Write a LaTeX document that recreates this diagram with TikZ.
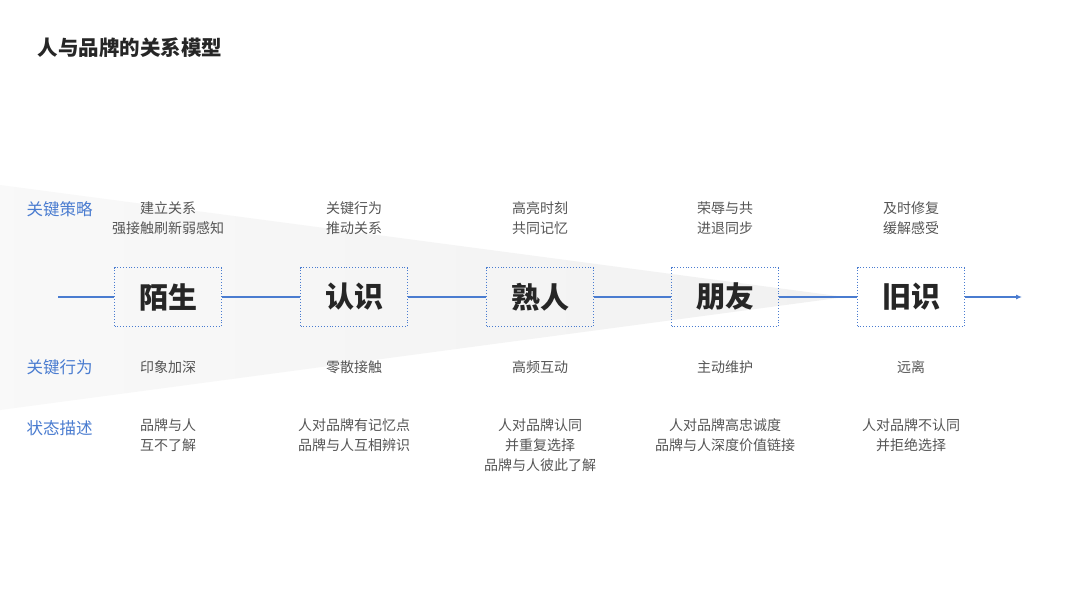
\documentclass[tikz,border=0pt]{standalone}
\usepackage{fontspec}
\setmainfont{Noto Sans CJK SC}
\usetikzlibrary{arrows.meta}
\definecolor{lineblue}{HTML}{4A7CD0}
\definecolor{textgray}{HTML}{555555}
\begin{document}
\begin{tikzpicture}[x=1pt,y=-1pt,
                    stage/.style={draw=lineblue,dotted,line width=0.9pt,minimum width=107pt,minimum height=59pt,font=\fontsize{29}{32}\selectfont\bfseries,text=black!85},
                    link/.style={lineblue,line width=1.1pt},
                    desc/.style={align=center,text=textgray,font=\fontsize{14}{20}\selectfont},
                    rowlab/.style={anchor=west,text=lineblue,font=\fontsize{16.5}{18}\selectfont}
                    ]
  \useasboundingbox (0,0) rectangle (1080,608);
  \fill[white] (0,0) rectangle (1080,608);
  % funnel
  \shade[left color=gray!5,right color=gray!11] (0,185) -- (845,297) -- (0,410) -- cycle;
  \node[anchor=west,font=\fontsize{20.5}{22}\selectfont\bfseries,text=black!85] (title) at (34,48) {人与品牌的关系模型};
  \coordinate (start) at (58,297);
  \coordinate (end) at (1022,297);
  \node[stage] (s1) at (168,297) {陌生};
  \node[stage] (s2) at (354,297) {认识};
  \node[stage] (s3) at (540,297) {熟人};
  \node[stage] (s4) at (725,297) {朋友};
  \node[stage] (s5) at (911,297) {旧识};
  \draw[link] (start) -- (s1);
  \draw[link] (s1) -- (s2);
  \draw[link] (s2) -- (s3);
  \draw[link] (s3) -- (s4);
  \draw[link] (s4) -- (s5);
  \draw[link,-{Latex[length=6pt,width=5pt]}] (s5) -- (end);
  % row labels
  \node[rowlab] (l1) at (23,209) {关键策略};
  \node[rowlab] (l2) at (23,367) {关键行为};
  \node[rowlab] (l3) at (23,428) {状态描述};
  % strategy
  \node[desc] (a1) at (168,218) {建立关系\\强接触刷新弱感知};
  \node[desc] (a2) at (354,218) {关键行为\\推动关系};
  \node[desc] (a3) at (540,218) {高亮时刻\\共同记忆};
  \node[desc] (a4) at (725,218) {荣辱与共\\进退同步};
  \node[desc] (a5) at (911,218) {及时修复\\缓解感受};
  % behaviour
  \node[desc] (b1) at (168,367) {印象加深};
  \node[desc] (b2) at (354,367) {零散接触};
  \node[desc] (b3) at (540,367) {高频互动};
  \node[desc] (b4) at (725,367) {主动维护};
  \node[desc] (b5) at (911,367) {远离};
  % state
  \node[desc,anchor=north] (c1) at (168,415) {品牌与人\\互不了解};
  \node[desc,anchor=north] (c2) at (354,415) {人对品牌有记忆点\\品牌与人互相辨识};
  \node[desc,anchor=north] (c3) at (540,415) {人对品牌认同\\并重复选择\\品牌与人彼此了解};
  \node[desc,anchor=north] (c4) at (725,415) {人对品牌高忠诚度\\品牌与人深度价值链接};
  \node[desc,anchor=north] (c5) at (911,415) {人对品牌不认同\\并拒绝选择};
\end{tikzpicture}
\end{document}
